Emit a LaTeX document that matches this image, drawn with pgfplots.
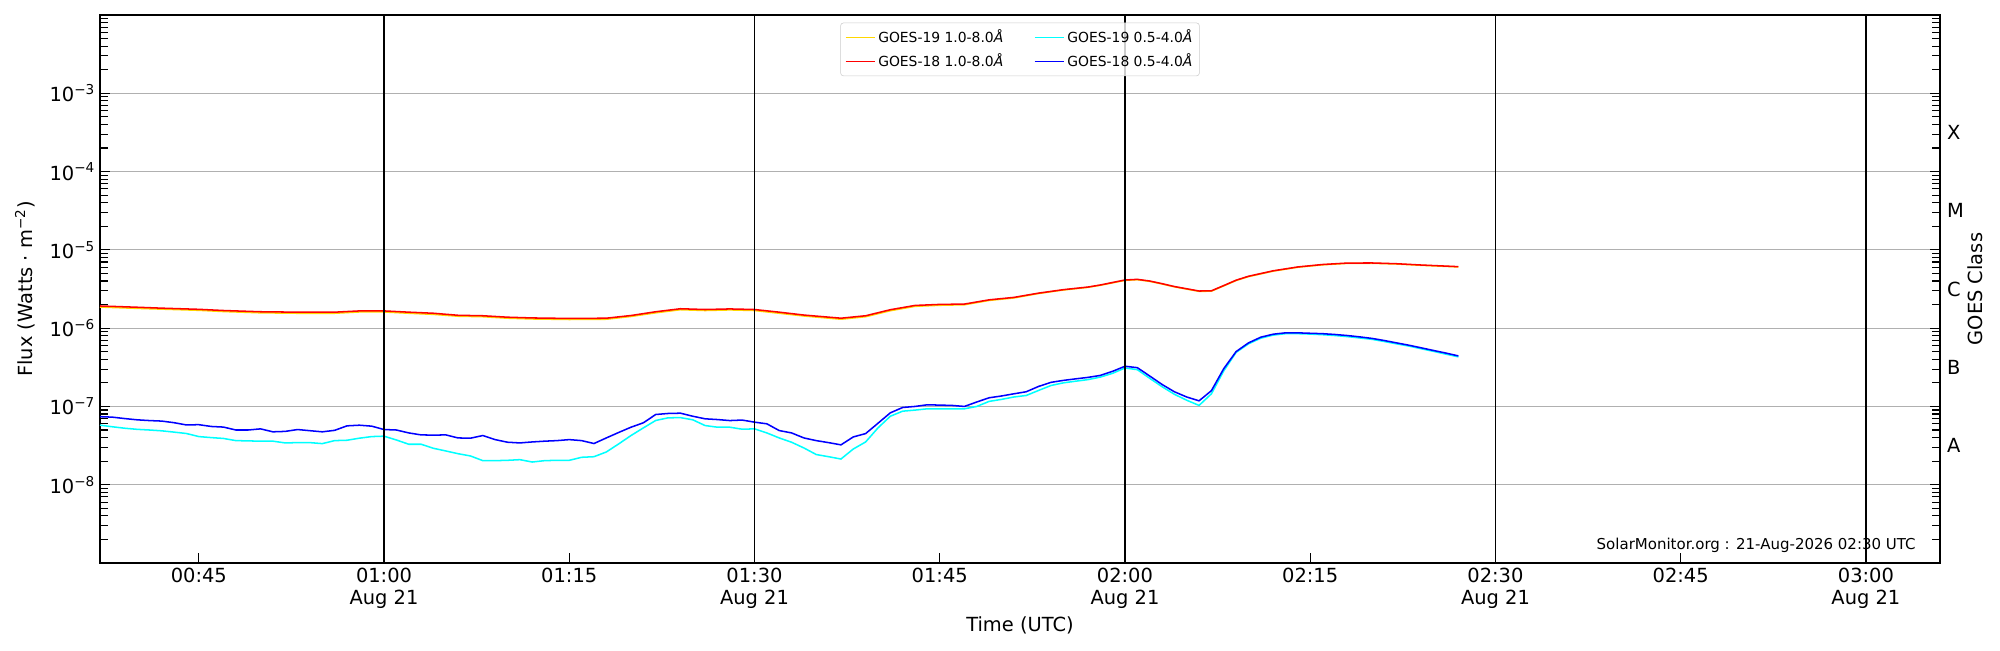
\documentclass[border=0pt]{standalone}
\usepackage{fontspec}
\setmainfont{DejaVu Sans}
\usepackage{pgfplots}
\pgfplotsset{compat=1.18}
\definecolor{goldc}{HTML}{FFD700}
\definecolor{gridc}{HTML}{B0B0B0}
\definecolor{cyanc}{HTML}{00FFFF}
\definecolor{bluec}{HTML}{0000FF}
\definecolor{redc}{HTML}{FF0000}

\begin{document}
\begin{tikzpicture}
\begin{axis}[
  width=1324.8pt, height=394.56pt, scale only axis,
  clip=false,
  xmin=37, xmax=186,
  ymode=log, ymin=1e-9, ymax=1e-2,
  xtick={45,60,75,90,105,120,135,150,165,180},
  xticklabels={00:45,{01:00\\Aug 21},01:15,{01:30\\Aug 21},01:45,{02:00\\Aug 21},02:15,{02:30\\Aug 21},02:45,{03:00\\Aug 21}},
  xticklabel style={align=center, font=\fontsize{14}{16}\selectfont},
  ytick={1e-8,1e-7,1e-6,1e-5,1e-4,1e-3},
  yticklabels={10\textsuperscript{−8},10\textsuperscript{−7},10\textsuperscript{−6},10\textsuperscript{−5},10\textsuperscript{−4},10\textsuperscript{−3}},
  yticklabel style={font=\fontsize{14}{16}\selectfont},
  minor ytick={2e-9,3e-9,4e-9,5e-9,6e-9,7e-9,8e-9,9e-9,
    2e-8,3e-8,4e-8,5e-8,6e-8,7e-8,8e-8,9e-8,
    2e-7,3e-7,4e-7,5e-7,6e-7,7e-7,8e-7,9e-7,
    2e-6,3e-6,4e-6,5e-6,6e-6,7e-6,8e-6,9e-6,
    2e-5,3e-5,4e-5,5e-5,6e-5,7e-5,8e-5,9e-5,
    2e-4,3e-4,4e-4,5e-4,6e-4,7e-4,8e-4,9e-4,
    2e-3,3e-3,4e-3,5e-3,6e-3,7e-3,8e-3,9e-3},
  tick align=inside,
  xtick pos=left, ytick pos=both, yticklabel pos=left,
  major tick length=7pt, minor tick length=6pt,
  tick style={black, line width=0.8pt},
  ymajorgrids, major grid style={gridc, line width=0.8pt},
  axis line style={line width=1pt},
  every axis x label/.style={at={(rel axis cs:0.5,0)}, anchor=center, yshift=-44.6pt, font=\fontsize{14}{16}\selectfont},
  every axis y label/.style={at={(rel axis cs:0,0.5)}, xshift=-54pt, rotate=90, anchor=center, font=\fontsize{14}{16}\selectfont},
  xlabel={Time (UTC)},
  ylabel={Flux (Watts · m\textsuperscript{−2})},
  legend columns=2,
  legend cell align=left,
  legend image code/.code={\draw[#1] (0pt,0pt) -- (21pt,0pt);},
  legend style={at={(0.5,0.986)}, anchor=north, font=\fontsize{10}{12}\selectfont,
    draw=black!20, rounded corners=2pt, fill=white, fill opacity=0.8, text opacity=1,
    inner xsep=3pt, inner ysep=3pt, row sep=2.5pt,
    /tikz/every even column/.append style={column sep=20pt}},
]
\addplot[goldc, line width=1.1pt] coordinates {
(37,1.86e-6)(40,1.79e-6)(42,1.75e-6)(45,1.69e-6)(47,1.63e-6)(50,1.57e-6)(53,1.55e-6)(56,1.55e-6)(58,1.61e-6)(60,1.61e-6)(62,1.55e-6)(64,1.50e-6)(66,1.42e-6)(68,1.40e-6)(70,1.34e-6)(72,1.31e-6)(75,1.29e-6)(78,1.30e-6)(80,1.41e-6)(82,1.57e-6)(84,1.72e-6)(86,1.68e-6)(88,1.71e-6)(90,1.68e-6)(92,1.55e-6)(94,1.43e-6)(97,1.30e-6)(99,1.40e-6)(101,1.67e-6)(103,1.90e-6)(105,1.96e-6)(107,1.99e-6)(109,2.26e-6)(111,2.43e-6)(113,2.77e-6)(115,3.07e-6)(117,3.32e-6)(118,3.53e-6)(120,4.08e-6)(121,4.16e-6)(122,3.96e-6)(123,3.67e-6)(124,3.37e-6)(126,2.95e-6)(127,2.97e-6)(128,3.47e-6)(129,4.06e-6)(130,4.55e-6)(132,5.35e-6)(134,6.0e-6)(136,6.44e-6)(138,6.72e-6)(140,6.74e-6)(142,6.6e-6)(144,6.35e-6)(146,6.15e-6)(147,6.05e-6)
};
\addlegendentry{GOES-19 1.0-8.0\textit{Å}}
\addplot[cyanc, line width=1.1pt] coordinates {
(37,5.77e-8)(38,5.5e-8)(39,5.27e-8)(40,5.1e-8)(41,5.0e-8)(42,4.88e-8)(43,4.7e-8)(44,4.51e-8)(45,4.12e-8)(46,4.0e-8)(47,3.9e-8)(48,3.66e-8)(49,3.63e-8)(50,3.6e-8)(51,3.6e-8)(52,3.42e-8)(53,3.45e-8)(54,3.45e-8)(55,3.35e-8)(56,3.66e-8)(57,3.7e-8)(58,3.93e-8)(59,4.12e-8)(60,4.17e-8)(61,3.73e-8)(62,3.29e-8)(63,3.29e-8)(64,2.92e-8)(65,2.70e-8)(66,2.49e-8)(67,2.33e-8)(68,2.03e-8)(69,2.03e-8)(70,2.05e-8)(71,2.09e-8)(72,1.95e-8)(73,2.03e-8)(74,2.05e-8)(75,2.05e-8)(76,2.24e-8)(77,2.28e-8)(78,2.62e-8)(79,3.32e-8)(80,4.25e-8)(81,5.32e-8)(82,6.62e-8)(83,7.15e-8)(84,7.2e-8)(85,6.75e-8)(86,5.7e-8)(87,5.43e-8)(88,5.43e-8)(89,5.12e-8)(90,5.17e-8)(91,4.59e-8)(92,3.96e-8)(93,3.49e-8)(94,2.95e-8)(95,2.43e-8)(96,2.28e-8)(97,2.13e-8)(98,2.86e-8)(99,3.52e-8)(100,5.32e-8)(101,7.5e-8)(102,8.7e-8)(103,8.98e-8)(104,9.33e-8)(105,9.3e-8)(106,9.3e-8)(107,9.33e-8)(108,1.0e-7)(109,1.16e-7)(110,1.23e-7)(111,1.32e-7)(112,1.38e-7)(113,1.6e-7)(114,1.85e-7)(115,2.0e-7)(116,2.1e-7)(117,2.2e-7)(118,2.37e-7)(119,2.65e-7)(120,3.1e-7)(121,2.95e-7)(122,2.29e-7)(123,1.79e-7)(124,1.43e-7)(125,1.2e-7)(126,1.03e-7)(127,1.45e-7)(128,2.85e-7)(129,4.9e-7)(130,6.3e-7)(131,7.45e-7)(132,8.15e-7)(133,8.5e-7)(134,8.5e-7)(135,8.4e-7)(136,8.25e-7)(137,8.05e-7)(138,7.8e-7)(139,7.5e-7)(140,7.2e-7)(141,6.75e-7)(142,6.3e-7)(143,5.9e-7)(144,5.45e-7)(145,5.05e-7)(146,4.65e-7)(147,4.3e-7)
};
\addlegendentry{GOES-19 0.5-4.0\textit{Å}}
\addplot[redc, line width=1.1pt] coordinates {
(37,1.92e-6)(40,1.85e-6)(42,1.80e-6)(45,1.74e-6)(47,1.68e-6)(50,1.62e-6)(53,1.60e-6)(56,1.60e-6)(58,1.66e-6)(60,1.66e-6)(62,1.60e-6)(64,1.55e-6)(66,1.46e-6)(68,1.44e-6)(70,1.38e-6)(72,1.35e-6)(75,1.33e-6)(78,1.34e-6)(80,1.45e-6)(82,1.62e-6)(84,1.77e-6)(86,1.73e-6)(88,1.76e-6)(90,1.73e-6)(92,1.60e-6)(94,1.47e-6)(97,1.34e-6)(99,1.44e-6)(101,1.72e-6)(103,1.95e-6)(105,2.01e-6)(107,2.03e-6)(109,2.30e-6)(111,2.47e-6)(113,2.80e-6)(115,3.10e-6)(117,3.35e-6)(118,3.56e-6)(120,4.12e-6)(121,4.20e-6)(122,4.00e-6)(123,3.70e-6)(124,3.40e-6)(126,2.98e-6)(127,3.00e-6)(128,3.50e-6)(129,4.10e-6)(130,4.60e-6)(132,5.40e-6)(134,6.05e-6)(136,6.50e-6)(138,6.78e-6)(140,6.80e-6)(142,6.65e-6)(144,6.40e-6)(146,6.20e-6)(147,6.10e-6)
};
\addlegendentry{GOES-18 1.0-8.0\textit{Å}}
\addplot[bluec, line width=1.1pt] coordinates {
(37,7.4e-8)(38,7.3e-8)(39,7.0e-8)(40,6.75e-8)(41,6.6e-8)(42,6.5e-8)(43,6.2e-8)(44,5.8e-8)(45,5.85e-8)(46,5.55e-8)(47,5.45e-8)(48,5.0e-8)(49,5.0e-8)(50,5.17e-8)(51,4.74e-8)(52,4.8e-8)(53,5.07e-8)(54,4.9e-8)(55,4.74e-8)(56,4.95e-8)(57,5.65e-8)(58,5.76e-8)(59,5.6e-8)(60,5.07e-8)(61,5.0e-8)(62,4.59e-8)(63,4.33e-8)(64,4.3e-8)(65,4.33e-8)(66,3.96e-8)(67,3.93e-8)(68,4.25e-8)(69,3.77e-8)(70,3.49e-8)(71,3.42e-8)(72,3.52e-8)(73,3.6e-8)(74,3.66e-8)(75,3.77e-8)(76,3.66e-8)(77,3.36e-8)(78,3.96e-8)(79,4.65e-8)(80,5.43e-8)(81,6.18e-8)(82,7.89e-8)(83,8.13e-8)(84,8.2e-8)(85,7.5e-8)(86,6.95e-8)(87,6.8e-8)(88,6.6e-8)(89,6.7e-8)(90,6.3e-8)(91,6.0e-8)(92,4.92e-8)(93,4.59e-8)(94,3.96e-8)(95,3.66e-8)(96,3.45e-8)(97,3.23e-8)(98,4.08e-8)(99,4.5e-8)(100,6.1e-8)(101,8.29e-8)(102,9.7e-8)(103,1.0e-7)(104,1.05e-7)(105,1.04e-7)(106,1.03e-7)(107,1.0e-7)(108,1.14e-7)(109,1.29e-7)(110,1.36e-7)(111,1.45e-7)(112,1.54e-7)(113,1.8e-7)(114,2.03e-7)(115,2.15e-7)(116,2.25e-7)(117,2.35e-7)(118,2.49e-7)(119,2.81e-7)(120,3.26e-7)(121,3.13e-7)(122,2.45e-7)(123,1.91e-7)(124,1.54e-7)(125,1.32e-7)(126,1.18e-7)(127,1.59e-7)(128,3.04e-7)(129,5.02e-7)(130,6.48e-7)(131,7.67e-7)(132,8.37e-7)(133,8.71e-7)(134,8.71e-7)(135,8.6e-7)(136,8.5e-7)(137,8.3e-7)(138,8.05e-7)(139,7.74e-7)(140,7.4e-7)(141,6.95e-7)(142,6.48e-7)(143,6.05e-7)(144,5.6e-7)(145,5.18e-7)(146,4.8e-7)(147,4.42e-7)
};
\addlegendentry{GOES-18 0.5-4.0\textit{Å}}
\foreach \t in {60,90,120,150,180}{
  \edef\temp{\noexpand\draw[black, line width=0.9pt] (axis cs:\t,1e-9) -- (axis cs:\t,1e-2);}
  \temp
}
\node[anchor=west, font=\fontsize{14}{16}\selectfont, xshift=1.5pt] at (axis cs:186,3.162e-4) {X};
\node[anchor=west, font=\fontsize{14}{16}\selectfont, xshift=1.5pt] at (axis cs:186,3.162e-5) {M};
\node[anchor=west, font=\fontsize{14}{16}\selectfont, xshift=1.5pt] at (axis cs:186,3.162e-6) {C};
\node[anchor=west, font=\fontsize{14}{16}\selectfont, xshift=1.5pt] at (axis cs:186,3.162e-7) {B};
\node[anchor=west, font=\fontsize{14}{16}\selectfont, xshift=1.5pt] at (axis cs:186,3.162e-8) {A};
\node[xshift=25.2pt, rotate=90, anchor=center, font=\fontsize{14}{16}\selectfont] at (rel axis cs:1,0.5) {GOES Class};
\node[anchor=east, xshift=-14pt, yshift=13pt, font=\fontsize{10.8}{12.5}\selectfont] at (rel axis cs:1,0) {SolarMonitor.org : 21-Aug-2026 02:30 UTC};
\end{axis}
\pgfresetboundingbox
\path[use as bounding box] ([xshift=-72pt,yshift=-62.64pt]current axis.south west) rectangle ([xshift=43.2pt,yshift=10.8pt]current axis.north east);
\end{tikzpicture}
\end{document}
